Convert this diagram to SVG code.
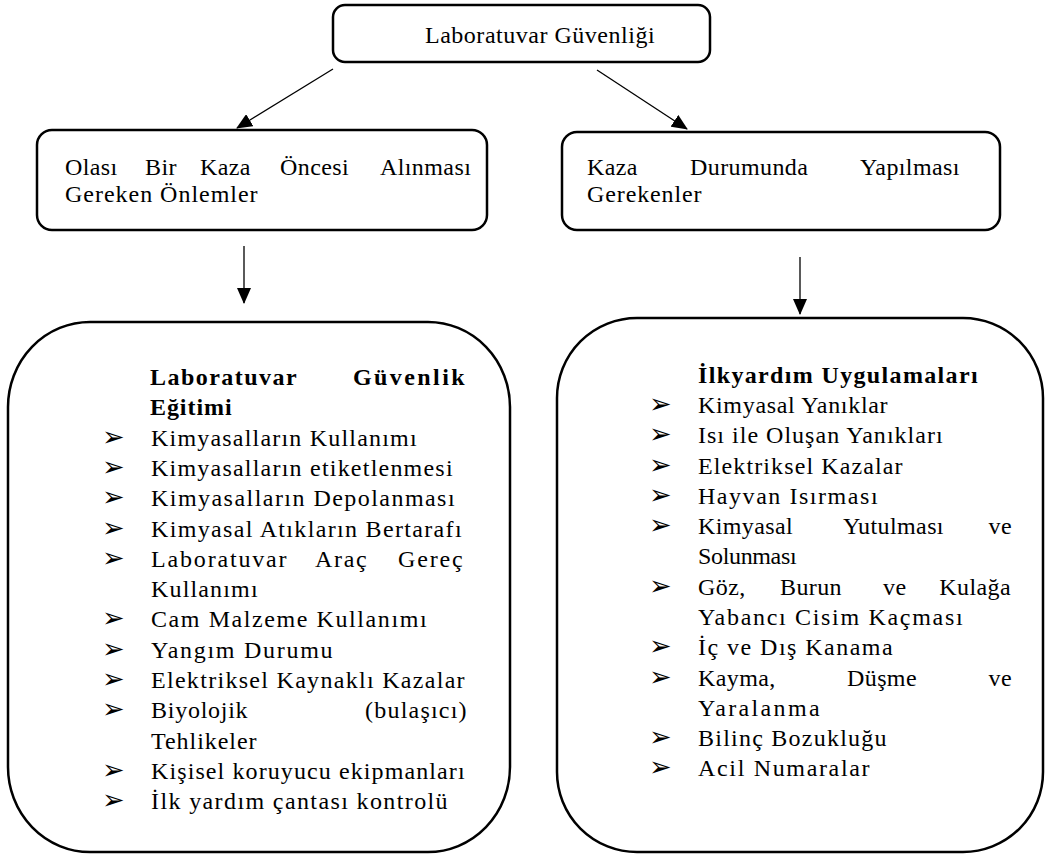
<svg xmlns="http://www.w3.org/2000/svg" width="1047" height="854" viewBox="0 0 1047 854">
<style>
.box{fill:#fff;stroke:#000;stroke-width:2.5}
.t{font-family:"Liberation Serif","Times New Roman",serif;font-size:24px;fill:#000;letter-spacing:0.4px}
.b{font-weight:bold}
.e{text-anchor:end}
.bl{font-family:"DejaVu Sans",sans-serif;font-size:27px;fill:#000}
.c{stroke:#000;stroke-width:1.3;fill:none}
</style>
<defs>
<marker id="ah" markerUnits="userSpaceOnUse" markerWidth="16" markerHeight="14" refX="15" refY="7" orient="auto"><path d="M0,0 L16,7 L0,14 Z" fill="#000"/></marker>
</defs>
<rect width="1047" height="854" fill="#fff"/>

<g id="root">
<rect class="box" x="333" y="5" width="377" height="57" rx="12"/>
<text class="t" x="425" y="43" textLength="230" lengthAdjust="spacing">Laboratuvar Güvenliği</text>
</g>

<g id="before">
<rect class="box" x="37" y="130" width="450" height="100" rx="15"/>
<text class="t" y="175"><tspan x="65">Olası</tspan><tspan x="145">Bir</tspan><tspan x="200">Kaza</tspan><tspan x="280">Öncesi</tspan><tspan x="380">Alınması</tspan></text>
<text class="t" x="65" y="202" textLength="193" lengthAdjust="spacing">Gereken Önlemler</text>
</g>

<g id="during">
<rect class="box" x="562" y="132" width="438" height="98" rx="15"/>
<text class="t" y="175"><tspan x="587">Kaza</tspan><tspan x="690">Durumunda</tspan><tspan x="860">Yapılması</tspan></text>
<text class="t" x="587" y="202" textLength="115" lengthAdjust="spacing">Gerekenler</text>
</g>

<g id="training">
<rect class="box" x="8" y="322" width="502" height="530" rx="82" ry="85"/>
<text class="t b" x="150" y="385" textLength="147" lengthAdjust="spacing">Laboratuvar</text>
<text class="t b" x="353" y="385" textLength="112" lengthAdjust="spacing">Güvenlik</text>
<text class="t b" x="150" y="415" textLength="82" lengthAdjust="spacing">Eğitimi</text>
<text class="bl" x="102" y="446">➢</text>
<text class="t" x="151" y="446" textLength="266" lengthAdjust="spacing">Kimyasalların Kullanımı</text>
<text class="bl" x="102" y="476">➢</text>
<text class="t" x="151" y="476" textLength="302" lengthAdjust="spacing">Kimyasalların etiketlenmesi</text>
<text class="bl" x="102" y="506">➢</text>
<text class="t" x="151" y="506" textLength="304" lengthAdjust="spacing">Kimyasalların Depolanması</text>
<text class="bl" x="102" y="537">➢</text>
<text class="t" x="151" y="537" textLength="311" lengthAdjust="spacing">Kimyasal Atıkların Bertarafı</text>
<text class="bl" x="102" y="567">➢</text>
<text class="t" x="151" y="567" textLength="136" lengthAdjust="spacing">Laboratuvar</text>
<text class="t" x="315" y="567" textLength="52" lengthAdjust="spacing">Araç</text>
<text class="t" x="398" y="567" textLength="65" lengthAdjust="spacing">Gereç</text>
<text class="t" x="151" y="597" textLength="107" lengthAdjust="spacing">Kullanımı</text>
<text class="bl" x="102" y="627">➢</text>
<text class="t" x="151" y="627" textLength="276" lengthAdjust="spacing">Cam Malzeme Kullanımı</text>
<text class="bl" x="102" y="658">➢</text>
<text class="t" x="151" y="658" textLength="182" lengthAdjust="spacing">Yangım Durumu</text>
<text class="bl" x="102" y="688">➢</text>
<text class="t" x="151" y="688" textLength="314" lengthAdjust="spacing">Elektriksel Kaynaklı Kazalar</text>
<text class="bl" x="102" y="718">➢</text>
<text class="t" x="151" y="718" textLength="97" lengthAdjust="spacing">Biyolojik</text>
<text class="t" x="365" y="718" textLength="102" lengthAdjust="spacing">(bulaşıcı)</text>
<text class="t" x="151" y="749" textLength="106" lengthAdjust="spacing">Tehlikeler</text>
<text class="bl" x="102" y="779">➢</text>
<text class="t" x="151" y="779" textLength="314" lengthAdjust="spacing">Kişisel koruyucu ekipmanları</text>
<text class="bl" x="102" y="809">➢</text>
<text class="t" x="151" y="809" textLength="297" lengthAdjust="spacing">İlk yardım çantası kontrolü</text>
</g>

<g id="firstaid">
<rect class="box" x="557" y="318" width="486" height="534" rx="80" ry="80"/>
<text class="t b" x="698" y="383" textLength="280" lengthAdjust="spacing">İlkyardım Uygulamaları</text>
<text class="bl" x="649" y="413">➢</text>
<text class="t" x="698" y="413" textLength="190" lengthAdjust="spacing">Kimyasal Yanıklar</text>
<text class="bl" x="649" y="443">➢</text>
<text class="t" x="698" y="443" textLength="245" lengthAdjust="spacing">Isı ile Oluşan Yanıkları</text>
<text class="bl" x="649" y="474">➢</text>
<text class="t" x="698" y="474" textLength="205" lengthAdjust="spacing">Elektriksel Kazalar</text>
<text class="bl" x="649" y="504">➢</text>
<text class="t" x="698" y="504" textLength="180" lengthAdjust="spacing">Hayvan Isırması</text>
<text class="bl" x="649" y="534">➢</text>
<text class="t" x="698" y="534">Kimyasal</text>
<text class="t" x="843" y="534">Yutulması</text>
<text class="t e" x="1012" y="534">ve</text>
<text class="t" x="698" y="564" textLength="99" lengthAdjust="spacing">Solunması</text>
<text class="bl" x="649" y="595">➢</text>
<text class="t" x="698" y="595">Göz,</text>
<text class="t" x="780" y="595">Burun</text>
<text class="t" x="883" y="595">ve</text>
<text class="t e" x="1011" y="595">Kulağa</text>
<text class="t" x="698" y="625" textLength="265" lengthAdjust="spacing">Yabancı Cisim Kaçması</text>
<text class="bl" x="649" y="655">➢</text>
<text class="t" x="698" y="655" textLength="195" lengthAdjust="spacing">İç ve Dış Kanama</text>
<text class="bl" x="649" y="686">➢</text>
<text class="t" x="698" y="686">Kayma,</text>
<text class="t" x="847" y="686">Düşme</text>
<text class="t e" x="1012" y="686">ve</text>
<text class="t" x="698" y="716" textLength="122" lengthAdjust="spacing">Yaralanma</text>
<text class="bl" x="649" y="746">➢</text>
<text class="t" x="698" y="746" textLength="189" lengthAdjust="spacing">Bilinç Bozukluğu</text>
<text class="bl" x="649" y="776">➢</text>
<text class="t" x="698" y="776" textLength="172" lengthAdjust="spacing">Acil Numaralar</text>
</g>

<g id="connectors">
<line class="c" x1="333" y1="69" x2="237" y2="128" marker-end="url(#ah)"/>
<line class="c" x1="597" y1="70" x2="687" y2="129" marker-end="url(#ah)"/>
<line class="c" x1="244" y1="246" x2="244" y2="303" marker-end="url(#ah)"/>
<line class="c" x1="800" y1="257" x2="800" y2="314" marker-end="url(#ah)"/>
</g>
</svg>
